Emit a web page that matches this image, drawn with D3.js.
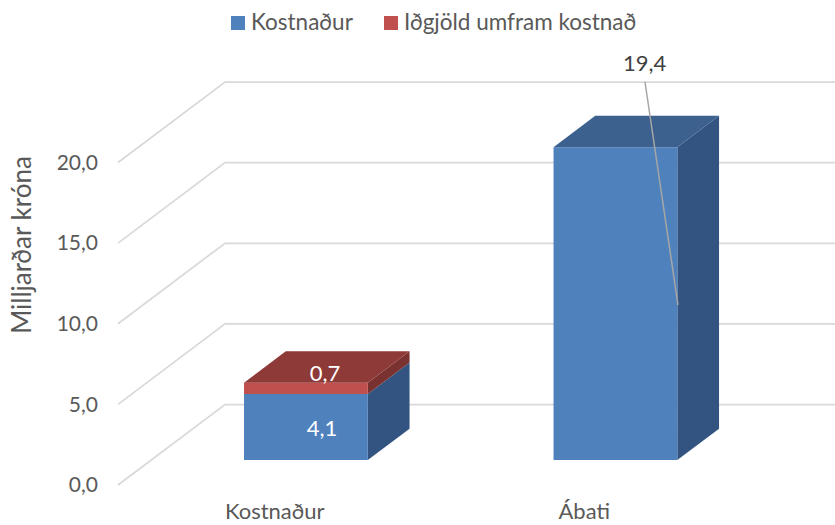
<!DOCTYPE html>
<html>
<head>
<meta charset="utf-8">
<script src="https://cdn.jsdelivr.net/npm/d3@7"></script>
<style>
  html, body { margin: 0; padding: 0; background: #fff; }
  svg { display: block; }
  text { font-family: Lato, "Open Sans", sans-serif; }
</style>
</head>
<body>
<div class="chart"></div>
<script>
var categories = ["Kostnaður", "Ábati"];
var seriesNames = ["Kostnaður", "Iðgjöld umfram kostnað"];
var costValues = [4.1, 19.4];
var premiumValues = [0.7, 0];
var yTicks = [0, 5, 10, 15, 20];

var svgWidth = 835;
var svgHeight = 525;

var seriesColors = ["#4f81bd", "#c0504d"];
var topColors = ["#3c618f", "#8e3a39"];
var sideColors = ["#335480", "#7a3231"];

var svg = d3.select(".chart")
  .append("svg")
  .attr("width", svgWidth)
  .attr("height", svgHeight);

// front plane of the 3d box, floor at y=485
var yScale = d3.scaleLinear().domain([0, 20]).range([485, 162.5]);
var xScale = d3.scaleBand()
  .domain(categories)
  .range([118, 737])
  .paddingInner(0.6)
  .paddingOuter(0.3);

// depth goes back and up: 0 is the front of the floor, 1 the back wall
var depthX = 107;
var depthY = -80.5;
var barNear = 0.31;
var barFar = 0.70;

function pt(x, v, d) {
  return [x + d * depthX, yScale(v) + d * depthY];
}

function poly(points, fill) {
  svg.append("polygon")
    .attr("points", points.map(function(p) { return p.join(","); }).join(" "))
    .attr("fill", fill);
}

// walls
var grid = svg.append("g")
  .attr("fill", "none")
  .attr("stroke", "#d9d9d9")
  .attr("stroke-width", 1.75);

yTicks.forEach(function(t) {
  grid.append("polyline")
    .attr("points", [pt(118, t, 0), pt(118, t, 1), pt(835 - depthX, t, 1)]
      .map(function(p) { return p.join(","); }).join(" "));
});

// y axis
var leftAxis = d3.axisLeft(yScale)
  .tickValues(yTicks)
  .tickSize(0)
  .tickPadding(0)
  .tickFormat(function(d) { return d3.format(".1f")(d).replace(".", ","); });

var yAxis = svg.append("g")
  .attr("transform", "translate(98,0)")
  .call(leftAxis);
yAxis.select(".domain").remove();
yAxis.selectAll("text")
  .style("font-family", "Lato, 'Open Sans', sans-serif")
  .style("font-size", "21px")
  .attr("fill", "#595959");

svg.append("text")
  .attr("transform", "translate(31,245) rotate(-90)")
  .attr("text-anchor", "middle")
  .attr("font-size", "26px")
  .attr("fill", "#595959")
  .text("Milljarðar króna");

// bars, stacked
categories.forEach(function(cat, i) {
  var x0 = xScale(cat);
  var x1 = x0 + xScale.bandwidth();
  var base = 0;
  [costValues[i], premiumValues[i]].forEach(function(v, s) {
    if (!v) return;
    var top = base + v;
    // side face
    poly([pt(x1, base, barNear), pt(x1, base, barFar), pt(x1, top, barFar), pt(x1, top, barNear)], sideColors[s]);
    // front face
    poly([pt(x0, base, barNear), pt(x1, base, barNear), pt(x1, top, barNear), pt(x0, top, barNear)], seriesColors[s]);
    base = top;
  });
  // top face takes the colour of the last segment
  var last = premiumValues[i] ? 1 : 0;
  poly([pt(x0, base, barNear), pt(x0, base, barFar), pt(x1, base, barFar), pt(x1, base, barNear)], topColors[last]);
});

// category labels
svg.selectAll(".cat")
  .data(categories)
  .enter()
  .append("text")
  .attr("class", "cat")
  .attr("x", function(d) { return xScale(d) + xScale.bandwidth() / 2 + 2; })
  .attr("y", 519)
  .attr("text-anchor", "middle")
  .attr("font-size", "22px")
  .attr("fill", "#595959")
  .text(function(d) { return d; });

// data labels
var fmt = function(v) { return String(v).replace(".", ","); };
var x0 = pt(xScale(categories[0]), 0, barNear)[0];
var x1 = pt(xScale(categories[1]), 0, barNear)[0];

svg.append("text")
  .attr("x", x0 + 78)
  .attr("y", 436)
  .attr("text-anchor", "middle")
  .attr("font-size", "22px")
  .attr("fill", "#fff")
  .text(fmt(costValues[0]));

svg.append("text")
  .attr("x", x0 + 81)
  .attr("y", 381)
  .attr("text-anchor", "middle")
  .attr("font-size", "22px")
  .attr("fill", "#fff")
  .text(fmt(premiumValues[0]));

svg.append("line")
  .attr("x1", 645)
  .attr("y1", 82)
  .attr("x2", 678)
  .attr("y2", 305)
  .attr("stroke", "#a6a6a6")
  .attr("stroke-width", 1.5);

svg.append("text")
  .attr("x", x1 + 91)
  .attr("y", 71)
  .attr("text-anchor", "middle")
  .attr("font-size", "22px")
  .attr("fill", "#404040")
  .text(fmt(costValues[1]));

// legend
var legendX = [231, 384];
seriesNames.forEach(function(name, i) {
  svg.append("rect")
    .attr("x", legendX[i])
    .attr("y", 16)
    .attr("width", 14)
    .attr("height", 14)
    .attr("fill", seriesColors[i]);
  svg.append("text")
    .attr("x", legendX[i] + 20)
    .attr("y", 30)
    .attr("font-size", "22.5px")
    .attr("fill", "#595959")
    .text(name);
});
</script>
</body>
</html>
